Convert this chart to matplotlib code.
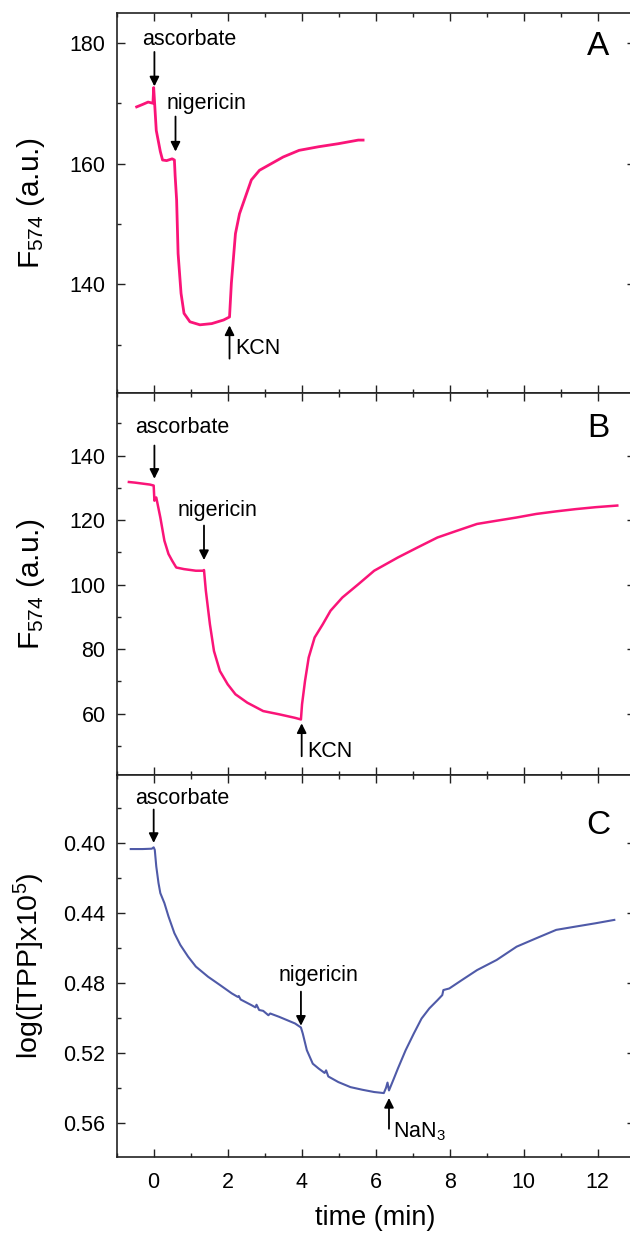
import numpy as np
import matplotlib
matplotlib.use("Agg")
import matplotlib.pyplot as plt
from matplotlib.ticker import MultipleLocator, FormatStrFormatter

plt.rcParams['font.family'] = ['Liberation Sans', 'DejaVu Sans']
plt.rcParams['mathtext.fontset'] = 'custom'
plt.rcParams['mathtext.rm'] = 'Liberation Sans'
plt.rcParams['mathtext.it'] = 'Liberation Sans:italic'

# panel A: F574 trace, KCN experiment (short)
tA = [-0.46, -0.3, -0.15, -0.02, 0.0, 0.07, 0.18, 0.24, 0.35, 0.5, 0.56, 0.58, 0.62,
      0.66, 0.74, 0.82, 0.98, 1.25, 1.57, 1.89, 2.05, 2.1, 2.21, 2.32, 2.48, 2.64,
      2.86, 3.18, 3.5, 3.93, 4.46, 4.99, 5.53, 5.66]
fA = [169.4, 169.8, 170.2, 170.0, 172.6, 165.5, 162.0, 160.6, 160.5, 160.8, 160.6, 158.0, 154.0,
      145.1, 138.5, 135.2, 133.8, 133.3, 133.5, 134.1, 134.6, 140.2, 148.4, 151.7, 154.5, 157.3,
      158.9, 160.0, 161.1, 162.2, 162.8, 163.3, 163.9, 163.9]

# panel B: F574 trace, longer run
tB = [-0.67, -0.5, -0.3, -0.1, 0.0, 0.02, 0.07, 0.18, 0.29, 0.4, 0.5, 0.61, 0.82, 1.14,
      1.33, 1.36, 1.41, 1.52, 1.63, 1.79, 2.0, 2.21, 2.53, 2.96, 3.39, 3.82, 3.98, 4.01,
      4.09, 4.19, 4.35, 4.57, 4.78, 5.1, 5.53, 5.96, 6.6, 7.13, 7.67, 8.2, 8.74, 9.27,
      9.81, 10.34, 10.88, 11.41, 11.95, 12.53]
fB = [131.8, 131.6, 131.3, 131.0, 130.7, 126.0, 127.0, 120.8, 113.6, 109.5, 107.4, 105.3, 104.8, 104.3,
      104.3, 104.5, 98.1, 87.7, 79.4, 73.2, 69.1, 66.0, 63.4, 60.8, 59.8, 58.7, 58.2, 62.9,
      70.1, 77.4, 83.6, 87.7, 91.9, 96.0, 100.1, 104.3, 108.4, 111.5, 114.6, 116.7, 118.8, 119.8,
      120.8, 121.9, 122.7, 123.4, 124.0, 124.5]

# panel C: log[TPP] trace
tC = [-0.62, -0.3, -0.05, 0.0, 0.03, 0.07, 0.13, 0.18, 0.29, 0.4, 0.56, 0.72, 0.93, 1.14,
      1.47, 1.79, 2.11, 2.27, 2.3, 2.35, 2.64, 2.75, 2.78, 2.85, 2.96, 3.1, 3.15, 3.39,
      3.82, 3.98, 4.03, 4.14, 4.3, 4.46, 4.62, 4.66, 4.72, 4.99, 5.32, 5.64, 5.96, 6.22,
      6.28, 6.32, 6.36, 6.49, 6.6, 6.81, 7.03, 7.24, 7.45, 7.67, 7.8, 7.83, 7.99, 8.33,
      8.74, 9.27, 9.81, 10.34, 10.88, 11.41, 11.95, 12.45]
logC = [0.4035, 0.4035, 0.4033, 0.4025, 0.404, 0.4134, 0.4229, 0.4287, 0.4344, 0.442, 0.4516, 0.4583, 0.465, 0.4707,
        0.4765, 0.4812, 0.486, 0.488, 0.4875, 0.4895, 0.4927, 0.494, 0.4925, 0.4955, 0.496, 0.4985, 0.4975, 0.4994,
        0.5032, 0.5055, 0.509, 0.5185, 0.5262, 0.529, 0.5315, 0.53, 0.5335, 0.5367, 0.5396, 0.5411, 0.5424, 0.543,
        0.540, 0.537, 0.5415, 0.5348, 0.529, 0.5185, 0.509, 0.5004, 0.4946, 0.4899, 0.487, 0.4841, 0.4832, 0.4784,
        0.4727, 0.4669, 0.4593, 0.4545, 0.4497, 0.4478, 0.4459, 0.4440]

# additions: (label, arrow x, arrow tail y, arrow head y, text x, text y, text ha)
addsA = [("ascorbate", 0.02, 178.5, 172.8, 0.96, 180.5, "center"),
         ("nigericin", 0.59, 167.8, 162.0, 1.44, 170.0, "center"),
         ("KCN", 2.05, 127.7, 133.2, 2.2, 129.4, "left")]
addsB = [("ascorbate", 0.02, 143.1, 132.8, 0.77, 148.8, "center"),
         ("nigericin", 1.36, 118.3, 107.6, 1.73, 122.9, "center"),
         ("KCN", 4.0, 46.8, 57.0, 4.15, 48.2, "left")]
addsC = [("ascorbate", 0.0, 0.3809, 0.4000, 0.78, 0.3748, "center"),
         ("nigericin", 3.98, 0.4850, 0.5045, 4.46, 0.4759, "center"),
         ("NaN$_{3}$", 6.36, 0.5634, 0.5458, 6.47, 0.5650, "left")]

pink = '#FA1478'
blue = '#4F5AA8'

fig = plt.figure(figsize=(6.3, 12.34), dpi=100)
left, width = 0.1852, 0.8222
axA = fig.add_axes([left, 0.6815, width, 0.3082])
axB = fig.add_axes([left, 0.3720, width, 0.3093])
axC = fig.add_axes([left, 0.0626, width, 0.3096])

axA.plot(tA, fA, color=pink, lw=2.0)
axB.plot(tB, fB, color=pink, lw=1.8)
axC.plot(tC, logC, color=blue, lw=1.5)

axA.set_ylim(122, 185)
axB.set_ylim(41, 159.3)
axC.set_ylim(0.5794, 0.361)

axA.yaxis.set_major_locator(MultipleLocator(20))
axA.yaxis.set_minor_locator(MultipleLocator(10))
axB.yaxis.set_major_locator(MultipleLocator(20))
axB.yaxis.set_minor_locator(MultipleLocator(10))
axC.yaxis.set_major_locator(MultipleLocator(0.04))
axC.yaxis.set_minor_locator(MultipleLocator(0.02))
axC.yaxis.set_major_formatter(FormatStrFormatter('%.2f'))

for ax, adds, letter, ly in [(axA, addsA, 'A', 0.91), (axB, addsB, 'B', 0.909), (axC, addsC, 'C', 0.868)]:
    ax.set_xlim(-1, 13)
    ax.xaxis.set_major_locator(MultipleLocator(2))
    ax.xaxis.set_minor_locator(MultipleLocator(1))
    ax.tick_params(which='both', direction='in', top=True, right=True, width=1.0,
                   labelsize=15.5, pad=8, color='#222222')
    ax.tick_params(which='major', length=6)
    ax.tick_params(which='minor', length=3)
    ax.tick_params(axis='x', pad=11)
    for s in ax.spines.values():
        s.set_linewidth(1.2)
        s.set_color('#222222')
    ax.text(0.929, ly, letter, transform=ax.transAxes, fontsize=24, ha='center', va='center')
    for lab, ax_x, y0, y1, tx, ty, ha in adds:
        ax.annotate('', xy=(ax_x, y1), xytext=(ax_x, y0),
                    arrowprops=dict(arrowstyle='-|>', color='k', lw=1.3,
                                    mutation_scale=14, shrinkA=0, shrinkB=0))
        ax.text(tx, ty, lab, fontsize=15.5, ha=ha, va='center')

axA.tick_params(axis='x', labelbottom=False)
axB.tick_params(axis='x', labelbottom=False)

axA.set_ylabel(r'F$_{574}$ (a.u.)', fontsize=21.5)
axB.set_ylabel(r'F$_{574}$ (a.u.)', fontsize=21.5)
axC.set_ylabel(r'log([TPP]x10$^{5}$)', fontsize=20.5)
for ax in (axA, axB, axC):
    ax.yaxis.set_label_coords(-0.135, 0.5)
axC.set_xlabel('time (min)', fontsize=19.5)
axC.xaxis.set_label_coords(0.5, -0.125)

fig.savefig('out.png', dpi=100)
